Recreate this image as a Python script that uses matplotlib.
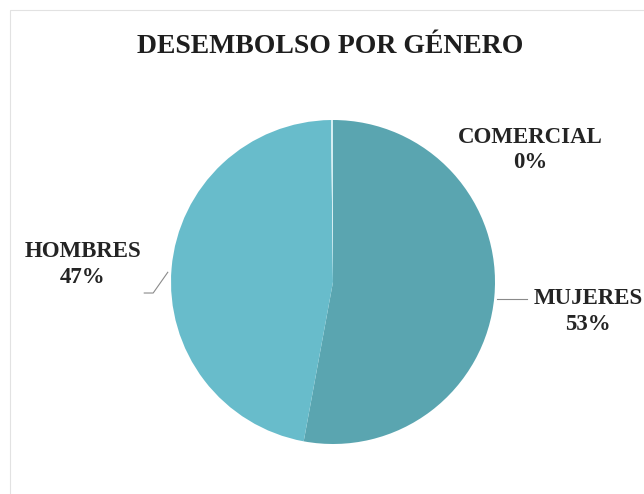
import numpy as np
import matplotlib
matplotlib.use("Agg")
from matplotlib import pyplot as plt

# data
labels = ["MUJERES", "HOMBRES", "COMERCIAL"]
values = [53.0, 47.0, 0.2]
colors = ["#5aa5b0", "#68bccb", "#d6eef2"]

plt.rcParams['font.family'] = ['Liberation Serif', 'DejaVu Serif']

fig = plt.figure(figsize=(6.44, 4.94), dpi=100)
fig.patch.set_facecolor("white")

ax = fig.add_axes([0, 0, 1, 1])
wedges, _ = ax.pie(values, colors=colors, startangle=90, counterclock=False,
                   radius=1.0, wedgeprops=dict(linewidth=0))

# 1 data unit = pie radius (162 px), centre at (333, 282) px from top-left
r_px = 162.0
cx, cy = 333.0, 494 - 282.0
ax.set_xlim(-cx / r_px, (644 - cx) / r_px)
ax.set_ylim(-cy / r_px, (494 - cy) / r_px)
ax.set_aspect("equal")
ax.axis("off")

total = sum(values)
pcts = ["%d%%" % round(v / total * 100) for v in values]

# label positions (layout only)
text_pos = {"MUJERES": (1.574, -0.18), "HOMBRES": (-1.543, 0.11),
            "COMERCIAL": (1.216, 0.815)}
for lab, pct in zip(labels, pcts):
    ax.text(*text_pos[lab], lab + "\n" + pct, ha="center", va="center",
            fontsize=16.5, fontweight="bold", color="#242424", linespacing=1.3)

# leader lines
line_kw = dict(color="#8a8a8a", lw=0.8)
ax.plot([1.01, 1.20], [-0.105, -0.105], **line_kw)
ax.plot([-1.165, -1.11, -1.02], [-0.068, -0.068, 0.06], **line_kw)

fig.text(0.512, 0.905, "DESEMBOLSO POR GÉNERO", ha="center", va="center",
         fontsize=20, fontweight="bold", color="#1e1e1e")

# faint scanned frame
fig.patches.append(plt.Rectangle((0.015, -0.02), 1.0, 1.0, transform=fig.transFigure,
                                 fill=False, edgecolor="#e2e2e2", lw=0.8))

fig.savefig("out.png", dpi=100)
